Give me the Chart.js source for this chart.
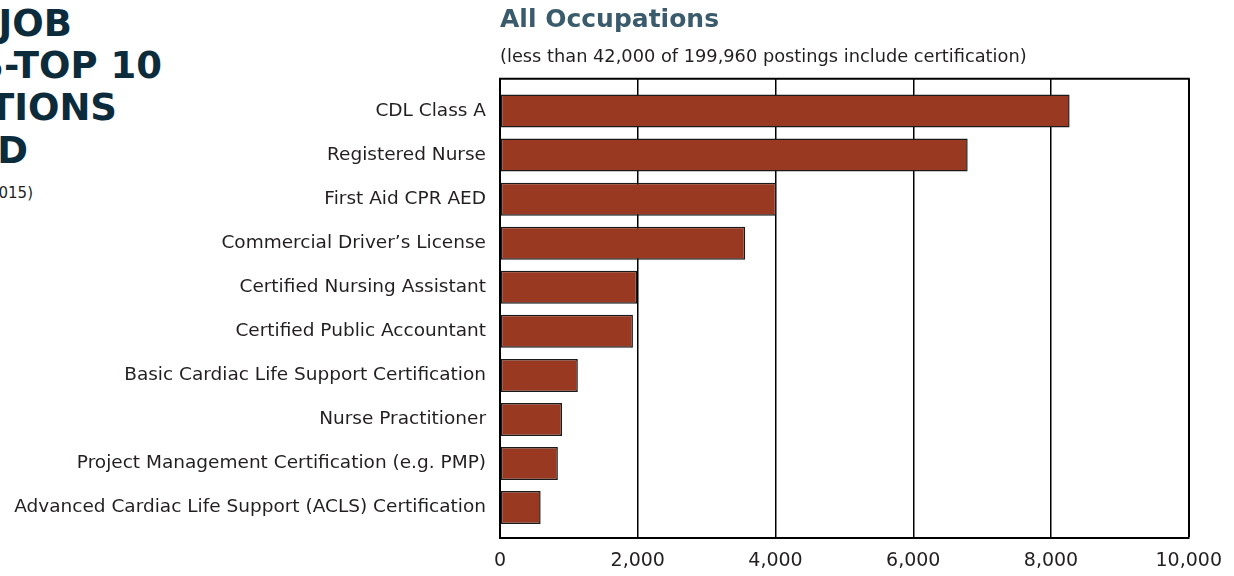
<!DOCTYPE html>
<html>
<head>
<meta charset="utf-8">
<script src="https://cdn.jsdelivr.net/npm/chart.js@4/dist/chart.umd.min.js"></script>
<style>
html, body { margin: 0; padding: 0; background: #fff; }
#wrap { position: relative; width: 1234px; height: 576px; overflow: hidden; }
.head { position: absolute; white-space: nowrap; text-align: right; font-family: "DejaVu Sans", sans-serif;
        font-weight: bold; font-size: 37px; line-height: 42px; color: #0c2b3b; }
.note { position: absolute; white-space: nowrap; text-align: right; font-family: "DejaVu Sans", sans-serif;
        font-size: 15px; color: #231f20; }
#chartBox { position: absolute; left: 0; top: 0; width: 1234px; height: 576px; }
</style>
</head>
<body>
<div id="wrap">
  <div class="head" style="right:1162px; top:3px;">ONLINE JOB</div>
  <div class="head" style="right:1072px; top:45px;">POSTINGS-TOP 10</div>
  <div class="head" style="right:1117px; top:87px;">CERTIFICATIONS</div>
  <div class="head" style="right:1206px; top:130px;">REQUESTED</div>
  <div class="note" style="right:1201px; top:184px;">(2015)</div>
  <div id="chartBox"><canvas id="certChart"></canvas></div>
</div>
<script>
var categories = [
  "CDL Class A",
  "Registered Nurse",
  "First Aid CPR AED",
  "Commercial Driver\u2019s License",
  "Certified Nursing Assistant",
  "Certified Public Accountant",
  "Basic Cardiac Life Support Certification",
  "Nurse Practitioner",
  "Project Management Certification (e.g. PMP)",
  "Advanced Cardiac Life Support (ACLS) Certification"
];
var postings = [8270, 6790, 4010, 3560, 1990, 1930, 1130, 900, 840, 590];
var xTicks = [0, 2000, 4000, 6000, 8000, 10000];

var textColor = "#231f20";
var fontName = "DejaVu Sans";

// top edge of the plot frame
var frame = {
  id: 'frame',
  beforeDatasetsDraw: function(chart) {
    var a = chart.chartArea, c = chart.ctx;
    c.save();
    c.strokeStyle = "#000";
    c.lineWidth = 2;
    c.beginPath();
    c.moveTo(a.left - 1, a.top);
    c.lineTo(a.right + 1, a.top);
    c.stroke();
    c.restore();
  }
};

var ctx = document.getElementById('certChart').getContext("2d");

var myChart = new Chart(ctx, {
  type: 'bar',
  data: {
    datasets: [{
      label: "Postings",
      data: postings.map(function(v, i) { return { x: v, y: i }; }),
      backgroundColor: "#9a3922",
      borderColor: "#1a1a1a",
      borderWidth: 1.5,
      borderSkipped: false,
      barPercentage: 0.75,
      categoryPercentage: 1
    }]
  },
  plugins: [frame],
  options: {
    indexAxis: 'y',
    responsive: true,
    maintainAspectRatio: false,
    animation: false,
    layout: { padding: { right: 45, bottom: 0, left: 0, top: 0 } },
    scales: {
      x: {
        type: 'linear',
        min: 0,
        max: 10000,
        afterBuildTicks: function(s) { s.ticks = xTicks.map(function(v) { return { value: v }; }); },
        afterFit: function(s) { s.height = 38; },
        ticks: {
          color: textColor,
          padding: 12,
          font: { family: fontName, size: 19 },
          callback: function(v) { return v.toLocaleString('en-US'); }
        },
        grid: {
          color: "#000",
          lineWidth: function(c) { return c.tick && c.tick.value === 10000 ? 2 : 1.5; },
          drawTicks: false
        },
        border: { color: "#000", width: 2 }
      },
      y: {
        type: 'linear',
        reverse: true,
        offset: false,
        min: -0.73,
        max: 9.69,
        afterBuildTicks: function(s) { s.ticks = categories.map(function(c, i) { return { value: i }; }); },
        afterFit: function(s) { s.width = 500; },
        ticks: {
          color: textColor,
          padding: 14,
          autoSkip: false,
          font: { family: fontName, size: 18.5 },
          callback: function(v) { return categories[v]; }
        },
        grid: { display: false, drawTicks: false, offset: false },
        border: { color: "#000", width: 2 }
      }
    },
    plugins: {
      legend: { display: false },
      tooltip: { enabled: false },
      title: {
        display: true,
        text: "All Occupations",
        align: 'start',
        fullSize: false,
        color: "#3a5b6c",
        font: { family: fontName, size: 25, weight: 'bold' },
        padding: { top: 5, bottom: 12 }
      },
      subtitle: {
        display: true,
        text: "(less than 42,000 of 199,960 postings include certification)",
        align: 'start',
        fullSize: false,
        color: textColor,
        font: { family: fontName, size: 17.8 },
        padding: { top: 0, bottom: 10.5 }
      }
    }
  }
});
</script>
</body>
</html>
